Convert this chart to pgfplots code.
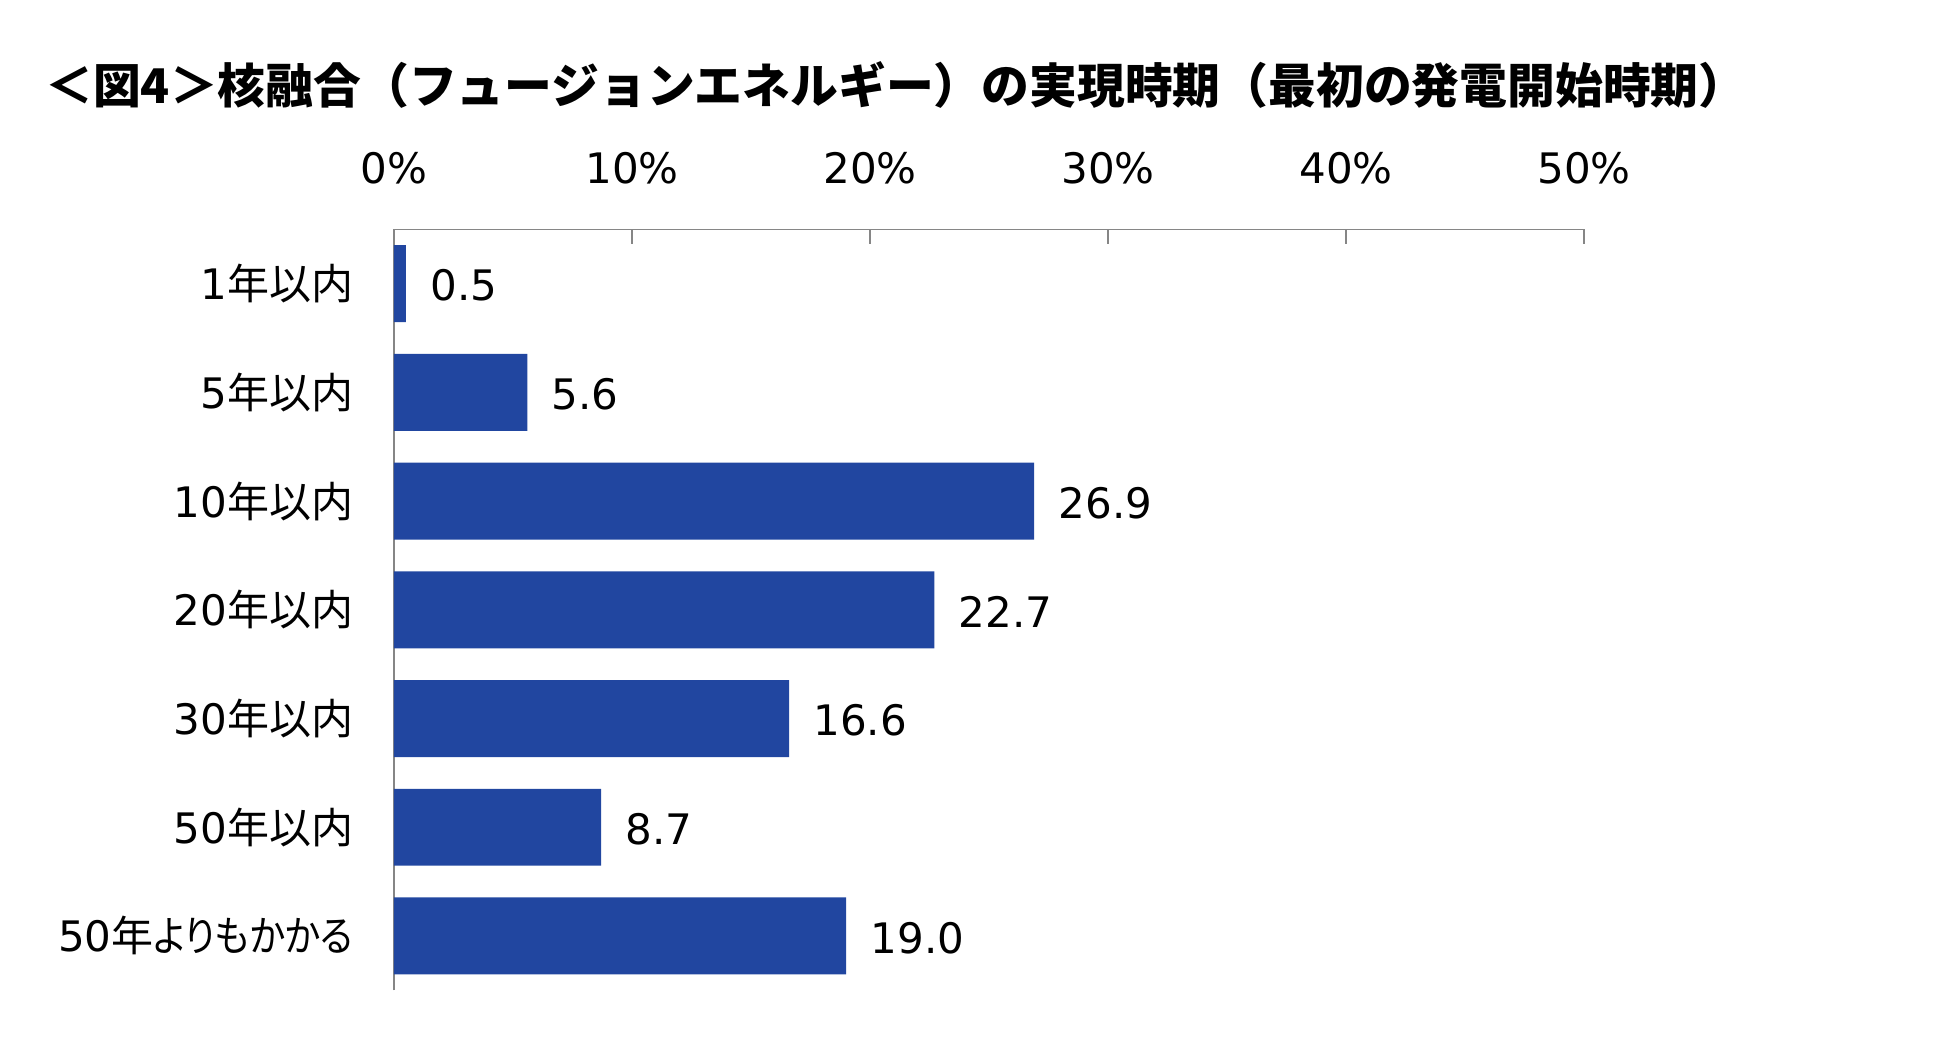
\documentclass[border=0pt]{standalone}
\usepackage{fontspec}
\setmainfont{DejaVu Sans}
\newfontfamily\jp{Noto Sans CJK JP}
\newfontfamily\jpk[RawFeature=+palt, FakeStretch=0.87]{Noto Sans CJK JP}
\usepackage{pgfplots}
\pgfplotsset{compat=1.18}
\definecolor{barblue}{RGB}{33,70,160}
\definecolor{axgray}{RGB}{134,134,134}
\begin{document}
\begin{tikzpicture}[x=1pt,y=1pt]
\useasboundingbox (0,0) rectangle (975,-523);
\node[anchor=west, inner sep=0pt, font=\jp\bfseries\fontsize{23.9pt}{28pt}\selectfont] at (22.5,-42.5) {＜図4＞核融合（フュージョンエネルギー）の実現時期（最初の発電開始時期）};
\begin{axis}[
  at={(197pt,-114.65pt)}, anchor=north west,
  scale only axis, width=595pt, height=380.5pt,
  xmin=0, xmax=50, ymin=-0.5, ymax=6.5,
  axis x line*=top, axis y line*=left,
  axis line style={axgray, line width=0.75pt},
  tick align=inside,
  major tick length=7.5pt,
  xtick={0,10,20,30,40,50},
  xticklabels={0\%,10\%,20\%,30\%,40\%,50\%},
  x tick style={axgray, line width=0.75pt},
  ytick={0,1,2,3,4,5,6},
  yticklabels={50{\jp 年}{\jpk よりもかかる},50{\jp 年以内},30{\jp 年以内},20{\jp 年以内},10{\jp 年以内},5{\jp 年以内},1{\jp 年以内}},
  y tick style={draw=none},
  ticklabel style={font=\fontsize{21pt}{25pt}\selectfont, inner sep=0pt},
  xticklabel style={anchor=south, yshift=22.5pt},
  yticklabel style={anchor=east, xshift=-12.75pt},
  xbar, bar width=0.708, bar shift=0pt,
  nodes near coords={\pgfmathprintnumber[fixed,fixed zerofill,precision=1,assume math mode=true]{\pgfplotspointmeta}},
  nodes near coords style={anchor=west, inner sep=0pt, xshift=12pt, yshift=-1pt, font=\fontsize{21pt}{25pt}\selectfont, text=black},
  clip=false,
]
\addplot[fill=barblue, draw=none] coordinates {(0.5,6) (5.6,5) (26.9,4) (22.7,3) (16.6,2) (8.7,1) (19.0,0)};
\end{axis}
\end{tikzpicture}
\end{document}
